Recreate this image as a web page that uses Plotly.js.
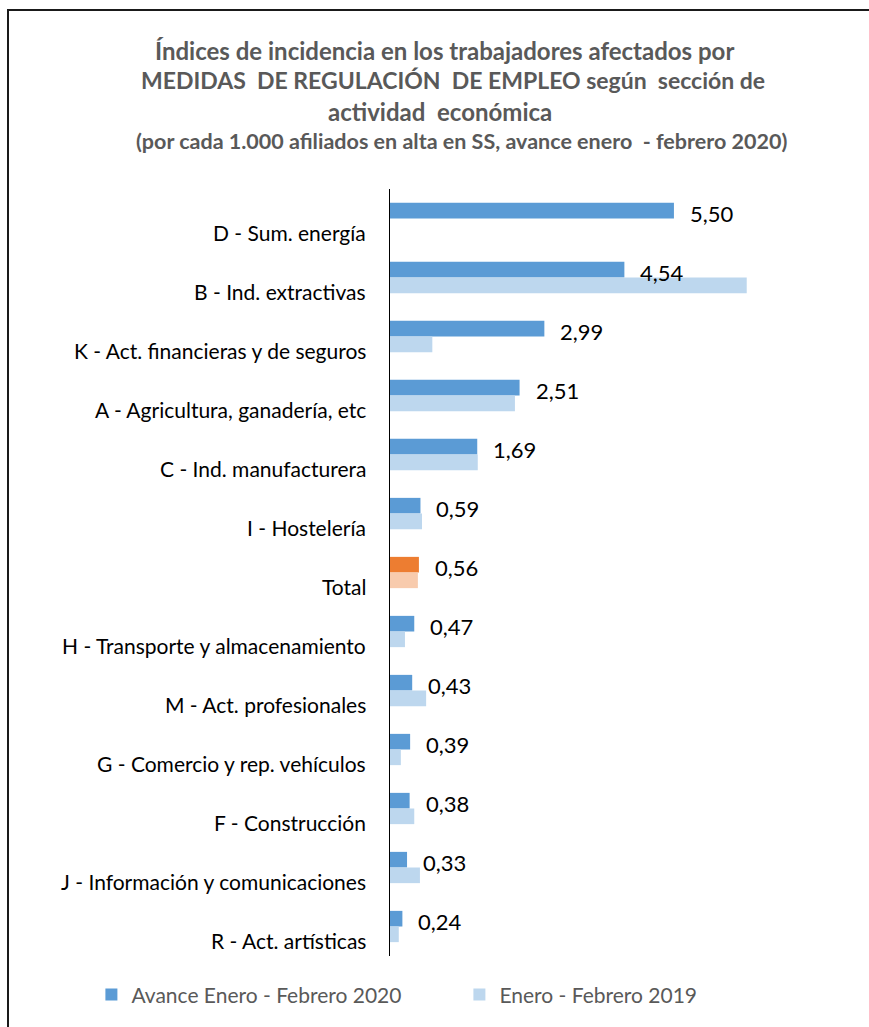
<!DOCTYPE html>
<html>
<head>
<meta charset="utf-8">
<script src="https://cdn.plot.ly/plotly-3.0.1.min.js"></script>
<style>
  html, body { margin: 0; padding: 0; background: #ffffff; overflow: hidden; }
  #chart { position: absolute; left: 0; top: 0; width: 869px; height: 1027px; }
  #frame { position: absolute; left: 7px; top: 9px; width: 1000px; height: 1100px;
           border: 2px solid #1a1a1a; pointer-events: none; z-index: 10; }
</style>
</head>
<body>
<div id="chart"></div>
<div id="frame"></div>
<script>
// ---- Data ----
const categories = [
  "D - Sum. energía",
  "B - Ind. extractivas",
  "K - Act. financieras y de seguros",
  "A - Agricultura, ganadería, etc",
  "C - Ind. manufacturera",
  "I - Hostelería",
  "Total",
  "H - Transporte y almacenamiento",
  "M - Act. profesionales",
  "G - Comercio y rep. vehículos",
  "F - Construcción",
  "J - Información y comunicaciones",
  "R - Act. artísticas"
];
const values2020 = [5.50, 4.54, 2.99, 2.51, 1.69, 0.59, 0.56, 0.47, 0.43, 0.39, 0.38, 0.33, 0.24];
const values2019 = [null, 6.91, 0.82, 2.42, 1.70, 0.62, 0.54, 0.29, 0.70, 0.21, 0.47, 0.58, 0.17];
const seriesNames = ["Avance Enero - Febrero 2020", "Enero - Febrero 2019"];
const titleLines = [
  "Índices de incidencia en los trabajadores afectados por",
  "MEDIDAS  DE REGULACIÓN  DE EMPLEO según  sección de",
  "actividad  económica",
  "(por cada 1.000 afiliados en alta en SS, avance enero  - febrero 2020)"
];

// ---- Styles ----
const FONT = "Lato, 'Open Sans', sans-serif";
const blue = "#5B9BD5", lightBlue = "#BDD7EE", orange = "#ED7D31", lightOrange = "#F8CBAD";
const colors2020 = categories.map(c => c === "Total" ? orange : blue);
const colors2019 = categories.map(c => c === "Total" ? lightOrange : lightBlue);

const traces = [
  { type: "bar", orientation: "h", name: seriesNames[0], y: categories, x: values2020,
    marker: { color: colors2020 }, hoverinfo: "x+y" },
  { type: "bar", orientation: "h", name: seriesNames[1], y: categories, x: values2019,
    marker: { color: colors2019 }, hoverinfo: "x+y" }
];

const annotations = [];
// category labels (sit slightly below group centre, as in the original)
categories.forEach(c => annotations.push({
  x: 0, y: c, xref: "x", yref: "y", text: c, showarrow: false,
  xanchor: "right", yanchor: "middle", xshift: -22, yshift: -14,
  font: { family: FONT, size: 21, color: "#000000" }
}));
// value labels for the 2020 series
categories.forEach((c, i) => annotations.push({
  x: values2020[i], y: c, xref: "x", yref: "y",
  text: values2020[i].toFixed(2).replace(".", ","), showarrow: false,
  xanchor: "left", yanchor: "middle", xshift: 14, yshift: 5,
  font: { family: FONT, size: 22, color: "#000000" }
}));
// title lines
const titleX = [0.132, 0.1525, 0.121, 0.1743];
const titleY = [1.1805, 1.1416, 1.1013, 1.0623];
const titleSize = [24, 23, 24, 21.5];
titleLines.forEach((t, i) => annotations.push({
  x: titleX[i], y: titleY[i], xref: "paper", yref: "paper", text: "<b>" + t + "</b>",
  showarrow: false, xanchor: "center", yanchor: "middle",
  font: { family: FONT, size: titleSize[i], color: "#595959" }
}));

const layout = {
  width: 869, height: 1027,
  margin: { l: 390, r: 66, t: 189, b: 68, pad: 0 },
  paper_bgcolor: "#ffffff", plot_bgcolor: "#ffffff",
  barmode: "group", bargap: 0.47, bargroupgap: 0,
  showlegend: true,
  legend: { orientation: "h", x: -0.723, xanchor: "left", y: -0.0506, yanchor: "middle",
            entrywidth: 323, entrywidthmode: "pixels", itemwidth: 30, traceorder: "normal",
            font: { family: FONT, size: 21, color: "#595959" } },
  xaxis: { range: [0, 8], showgrid: false, zeroline: false, showticklabels: false,
           showline: false, ticks: "", fixedrange: true },
  yaxis: { type: "category", autorange: "reversed", showgrid: false, zeroline: false,
           showticklabels: false, ticks: "", showline: true, linecolor: "#000000", linewidth: 1.5 },
  annotations: annotations,
  font: { family: FONT }
};

Plotly.newPlot("chart", traces, layout, { displayModeBar: false, staticPlot: true });
</script>
</body>
</html>
